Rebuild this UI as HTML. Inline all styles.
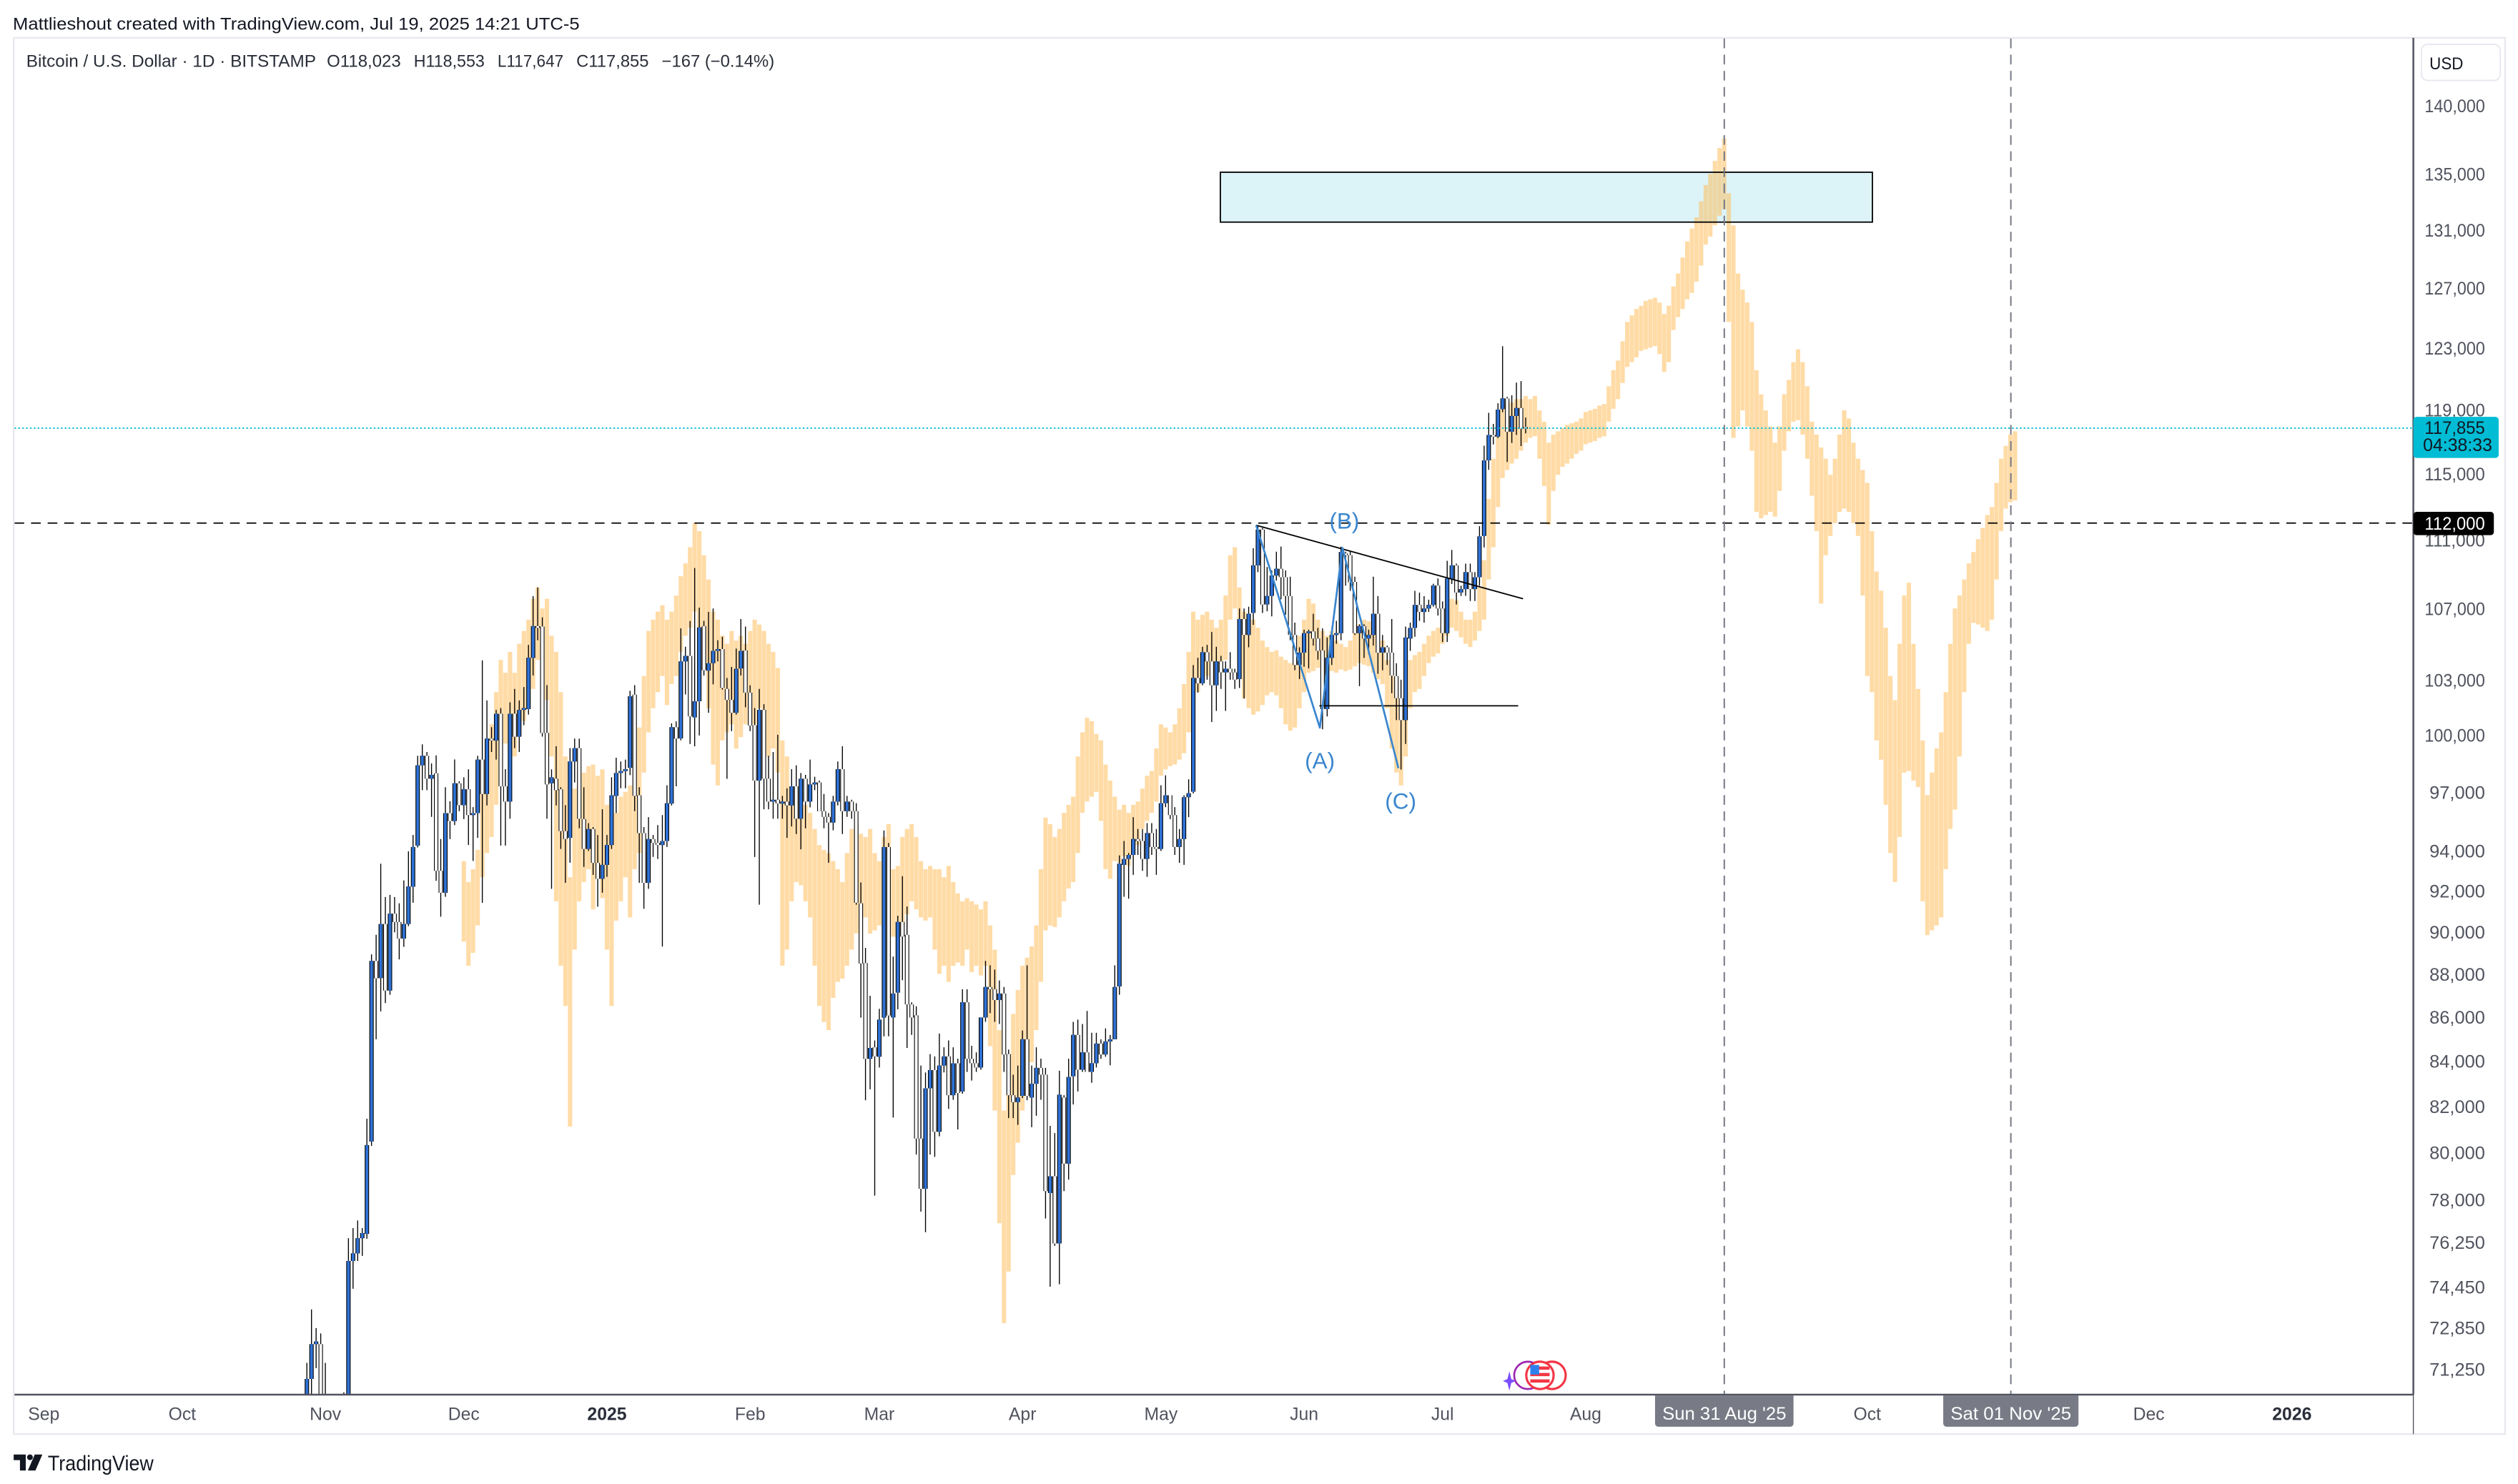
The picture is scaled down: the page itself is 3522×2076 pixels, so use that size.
<!DOCTYPE html>
<html><head><meta charset="utf-8"><style>
html,body{margin:0;padding:0;background:#fff;}
svg{display:block;}
</style></head><body>
<svg width="3522" height="2076" viewBox="0 0 1564 922" preserveAspectRatio="none" font-family="'Liberation Sans', Arial, sans-serif">
<rect x="0" y="0" width="1564" height="922" fill="#ffffff"/>
<text x="8" y="18.5" font-size="10.5" fill="#131722" textLength="352" lengthAdjust="spacingAndGlyphs">Mattlieshout created with TradingView.com, Jul 19, 2025 14:21 UTC-5</text>
<rect x="8.5" y="23.5" width="1547.5" height="867.5" fill="none" stroke="#e6e8ee" stroke-width="1"/>
<defs><clipPath id="cp"><rect x="9" y="24" width="1490" height="842.3"/></clipPath></defs>
<g clip-path="url(#cp)">
  <rect x="758" y="107" width="405" height="31" fill="#dcf4f8"/>
  <g transform="matrix(2.8675 0 0 1 377 0)">
  <path fill="none" stroke="#ffb74d" stroke-opacity="0.5" stroke-width="0.94" d="M-31 535V585M-30 548V600M-29 540V592M-28 528V575M-27 480V545M-26 468V530M-25 450V520M-24 430V500M-23 410V470M-22 418V462M-21 405V468M-20 418V470M-19 400V455M-18 392V448M-17 385V440M-16 372V428M-15 365V410M-14 378V432M-13 372V435M-12 395V470M-11 405V560M-10 430V600M-9 470V625M-8 545V700M-7 490V590M-6 488V560M-5 480V548M-4 476V540M-3 475V565M-2 482V545M-1 478V558M0 500V590M1 520V625M2 505V572M3 495V560M4 492V545M5 488V570M6 470V540M7 452V530M8 420V480M9 392V455M10 385V440M11 380V430M12 376V420M13 385V438M14 380V425M15 370V420M16 358V405M17 350V395M18 340V390M19 325V380M20 330V392M21 345V405M22 360V440M23 380V475M24 385V488M25 395V460M26 400V455M27 392V450M28 398V465M29 395V458M30 400V450M31 392V445M32 385V450M33 388V440M34 392V455M35 400V470M36 405V465M37 415V480M38 460V600M39 470V590M40 490V560M41 492V548M42 495V550M43 500V560M44 505V570M45 515V600M46 525V625M47 528V635M48 530V640M49 535V620M50 540V610M51 548V608M52 530V600M53 515V590M54 512V580M55 518V575M56 520V570M57 515V580M58 530V578M59 535V575M60 520V572M61 512V575M62 540V582M63 538V580M64 520V575M65 515V568M66 512V560M67 520V565M68 535V570M69 540V572M70 538V570M71 540V590M72 540V605M73 545V600M74 538V610M75 548V600M76 555V598M77 560V600M78 558V590M79 560V604M80 562V600M81 565V606M82 560V600M83 575V650M84 590V690M85 640V760M86 690V822M87 680V790M88 630V730M89 615V710M90 600V690M91 595V680M92 588V660M93 575V640M94 540V610M95 508V578M96 512V575M97 520V576M98 515V570M99 505V560M100 500V552M101 495V548M102 470V530M103 455V505M104 446V498M105 448V495M106 456V492M107 460V510M108 475V540M109 485V546M110 495V535M111 503V536M112 500V532M113 505V538M114 500V530M115 498V525M116 490V515M117 482V510M118 479V505M119 465V498M120 450V482M121 452V478M122 455V476M123 450V475M124 440V472M125 425V468M126 405V455M127 380V437M128 385V430M129 382V422M130 380V420M131 385V425M132 390V422M133 385V418M134 370V410M135 345V385M136 340V378M137 365V420M138 380V434M139 382V440M140 385V444M141 390V442M142 398V438M143 402V432M144 405V430M145 404V432M146 408V440M147 410V450M148 412V454M149 410V452M150 395V440M151 385V430M152 372V418M153 375V417M154 385V415M155 392V418M156 395V416M157 392V417M158 398V418M159 400V416M160 402V417M161 398V416M162 392V414M163 388V412M164 385V413M165 386V414M166 390V418M167 395V422M168 398V425M169 410V440M170 420V465M171 430V480M172 440V488M173 425V470M174 410V440M175 407V430M176 405V428M177 400V420M178 395V412M179 392V408M180 390V406M181 385V400M182 378V395M183 372V390M184 373V392M185 380V396M186 385V400M187 385V402M188 380V398M189 365V392M190 348V385M191 310V360M192 285V340M193 265V315M194 250V297M195 252V292M196 250V288M197 248V285M198 248V280M199 246V275M200 248V272M201 246V271M202 255V285M203 262V302M204 275V326M205 270V305M206 268V295M207 266V290M208 264V288M209 263V285M210 262V282M211 260V280M212 256V276M213 255V275M214 254V274M215 252V272M216 251V271M217 240V262M218 230V254M219 224V248M220 212V238M221 200V228M222 196V225M223 192V222M224 190V218M225 187V217M226 186V216M227 185V215M228 188V220M229 195V231M230 190V225M231 178V205M232 170V197M233 160V192M234 150V186M235 142V182M236 135V175M237 125V165M238 115V152M239 108V147M240 100V140M241 92V134M242 86V130M243 120V200M244 140V272M245 170V265M246 180V255M247 188V265M248 200V280M249 230V318M250 245V322M251 255V320M252 265V318M253 275V321M254 265V305M255 245V280M256 236V268M257 225V262M258 217V261M259 225V270M260 240V285M261 262V308M262 270V330M263 278V375M264 285V345M265 295V333M266 285V325M267 270V318M268 255V316M269 260V318M270 275V325M271 285V333M272 292V370M273 300V420M274 330V430M275 355V460M276 367V472M277 390V500M278 420V530M279 435V548M280 400V520M281 370V480M282 362V479M283 400V485M284 428V489M285 460V560M286 494V581M287 480V578M288 465V575M289 455V570M290 430V540M291 400V515M292 378V503M293 370V470M294 360V430M295 350V400M296 343V387M297 335V388M298 328V390M299 320V392M300 315V385M301 300V360M302 285V330M303 277V316M304 270V312M305 268V311"/>
  </g>
  <rect x="758" y="107" width="405" height="31" fill="none" stroke="#000" stroke-width="0.8"/>

  <g fill="none">
  <g transform="matrix(2.8675 0 0 -16.6175 377 2036.56)">
   <path stroke="#000" stroke-width="0.21" d="M-65 67.5V71.6M-64 69.7V73.6M-63 71.4V72.9M-62 69.7V72.7M-61 68.8V71.6M-60 69V69.9M-59 67.5V69.4M-58 66.8V68.9M-57 67.5V70.5"/>
   <path stroke="#000" stroke-width="0.94" d="M-65 67.9V71M-64 71V72.3M-63 72.3V72.4M-62 72.3V70.2M-61 70.2V69.5M-60 69.5V69.3M-59 69.3V68.7M-58 68.7V67.8M-57 67.8V69.4"/>
   <path stroke="#2f72d6" stroke-width="0.6" d="M-65 67.9V71M-64 71V72.3M-63 72.3V72.4M-57 67.8V69.4"/>
   <path stroke="#fff" stroke-width="0.6" d="M-62 72.3V70.2M-61 70.2V69.5M-60 69.5V69.3M-59 69.3V68.7M-58 68.7V67.8"/>
  </g>
  <g transform="matrix(2.8675 0 0 -15.719 377 1971.77)">
   <path stroke="#000" stroke-width="0.21" d="M-56 69.3V76.5M-55 74.5V76.9M-54 75.6V77.2M-53 75.8V76.9"/>
   <path stroke="#000" stroke-width="0.94" d="M-56 69.4V75.6M-55 75.6V75.9M-54 75.9V76.5M-53 76.5V76.7"/>
   <path stroke="#2f72d6" stroke-width="0.6" d="M-56 69.4V75.6M-55 75.6V75.9M-54 75.9V76.5M-53 76.5V76.7"/>
  </g>
  <g transform="matrix(2.8675 0 0 -14.91 377 1910.2)">
   <path stroke="#000" stroke-width="0.21" d="M-52 76.5V81.5M96 74.5V81.2M97 76.2V80.9M98 74.6V83.5"/>
   <path stroke="#000" stroke-width="0.94" d="M-52 76.7V80.4M96 78.4V79.1M97 79.1V76.3M98 76.3V82.5"/>
   <path stroke="#2f72d6" stroke-width="0.6" d="M-52 76.7V80.4M96 78.4V79.1M98 76.3V82.5"/>
   <path stroke="#fff" stroke-width="0.6" d="M97 79.1V76.3"/>
  </g>
  <g transform="matrix(2.8675 0 0 -14.181 377 1851.81)">
   <path stroke="#000" stroke-width="0.21" d="M58 78.2V85M67 80V86.5M68 77.5V83.9M69 76.6V83.6M70 80V84.4M71 79.9V84.3M72 80.8V85.3M73 83.6V84.7M74 82V85M75 82.4V84.7M76 81.1V84.2M87 81.6V84.6M88 81.6V83.5M89 81.3V83.9M92 81.2V83.9M93 81.7V84.7M94 82.4V84.2M95 77.2V83.8M99 78.4V82.6M100 78.9V84.2"/>
   <path stroke="#000" stroke-width="0.94" d="M58 84.7V84.3M67 86.1V80.7M68 80.7V78.5M69 78.5V82.9M70 82.9V83.7M71 83.7V81M72 81V83.9M73 83.9V84.3M74 84.3V82.6M75 82.6V84M76 84V82.7M87 84.4V82.6M88 82.6V82.3M89 82.3V82.5M92 82.5V83.1M93 83.1V83.8M94 83.8V83.5M95 83.5V78.4M99 82.5V79.6M100 79.6V83.4"/>
   <path stroke="#2f72d6" stroke-width="0.6" d="M69 78.5V82.9M70 82.9V83.7M72 81V83.9M73 83.9V84.3M75 82.6V84M89 82.3V82.5M92 82.5V83.1M93 83.1V83.8M100 79.6V83.4"/>
   <path stroke="#fff" stroke-width="0.6" d="M58 84.7V84.3M67 86.1V80.7M68 80.7V78.5M71 83.7V81M74 84.3V82.6M76 84V82.7M87 84.4V82.6M88 82.6V82.3M94 83.8V83.5M95 83.5V78.4M99 82.5V79.6"/>
  </g>
  <g transform="matrix(2.8675 0 0 -13.521 377 1796.32)">
   <path stroke="#000" stroke-width="0.21" d="M-51 80.2V89M-50 85.1V89.9M56 82.3V89.3M57 82.8V87.1M59 83.8V86.5M62 81.5V88.9M65 84.7V91.2M66 85.3V86.8M77 82.6V87.4M78 83.6V87.4M79 83.2V84.8M80 83.6V84.5M81 83.7V86.1M82 85.9V88.7M83 86.3V88.5M84 85.9V88.3M85 85.8V87.8M86 83.6V87.5M90 82.4V85.5M91 82.3V88.5M101 82.1V85.9M102 82.7V86M103 83.6V85.8M104 83.6V86.4M105 83.1V85.4M106 83.8V85.4M107 84.2V85.1M108 84.3V85.6M109 83.9V85.3M110 85.1V88.5"/>
   <path stroke="#000" stroke-width="0.94" d="M-51 80.4V88.7M-50 88.7V87.9M56 88.6V84.2M57 84.2V84.7M59 84.3V86M62 86.1V87.2M65 89.9V86.7M66 86.7V86.1M77 82.7V86.8M78 86.8V84.2M79 84.2V84M80 84V83.8M81 83.8V86.1M82 86.1V87.5M83 87.5V87.4M84 87.4V86.9M85 86.9V87.2M86 87.2V84.4M90 82.5V85.1M91 85.1V82.5M101 83.4V85.3M102 85.3V83.7M103 83.7V84.5M104 84.5V83.6M105 83.6V84M106 84V84.9M107 84.9V84.4M108 84.4V85M109 85V85.1M110 85.1V87.5"/>
   <path stroke="#2f72d6" stroke-width="0.6" d="M-51 80.4V88.7M57 84.2V84.7M59 84.3V86M62 86.1V87.2M77 82.7V86.8M81 83.8V86.1M82 86.1V87.5M85 86.9V87.2M90 82.5V85.1M101 83.4V85.3M103 83.7V84.5M105 83.6V84M106 84V84.9M108 84.4V85M109 85V85.1M110 85.1V87.5"/>
   <path stroke="#fff" stroke-width="0.6" d="M-50 88.7V87.9M56 88.6V84.2M65 89.9V86.7M66 86.7V86.1M78 86.8V84.2M79 84.2V84M80 84V83.8M83 87.5V87.4M84 87.4V86.9M86 87.2V84.4M91 85.1V82.5M102 85.3V83.7M104 84.5V83.6M107 84.9V84.4"/>
  </g>
  <g transform="matrix(2.8675 0 0 -12.92 377 1743.36)">
   <path stroke="#000" stroke-width="0.21" d="M-49 86.3V93.4M-48 86.7V91.8M-47 87.1V91.9M-46 90.1V91.8M-45 88.8V91.5M-44 89.4V92.6M-43 90.4V94M55 86V92.5M60 85.1V95M61 85.1V94.4M63 86.4V90.9M64 87.8V92.8M111 87.1V93.8"/>
   <path stroke="#000" stroke-width="0.94" d="M-49 87.9V90.5M-48 90.5V87.3M-47 87.3V91M-46 91V90.6M-45 90.6V89.8M-44 89.8V90.5M-43 90.5V92.3M55 91.5V88.6M60 86V94.2M61 94.2V86.1M63 87.2V90.6M64 90.6V89.9M111 87.5V93.4"/>
   <path stroke="#2f72d6" stroke-width="0.6" d="M-49 87.9V90.5M-47 87.3V91M-44 89.8V90.5M-43 90.5V92.3M60 86V94.2M63 87.2V90.6M111 87.5V93.4"/>
   <path stroke="#fff" stroke-width="0.6" d="M-48 90.5V87.3M-46 91V90.6M-45 90.6V89.8M55 91.5V88.6M61 94.2V86.1M64 90.6V89.9"/>
  </g>
  <g transform="matrix(2.8675 0 0 -12.369 377 1692.62)">
   <path stroke="#000" stroke-width="0.21" d="M-42 91.5V94.9M-37 92.6V98.9M-36 90.8V94.7M-35 91.8V97.3M-34 94.7V96.6M-33 95.4V98.7M-32 96.1V97.6M-31 95.7V97.8M-30 94.4V98.2M-29 93.6V96.3M-12 92.2V98.2M-10 94.2V97.3M-9 92.5V96.4M-5 93.3V97.3M-4 94.1V95.5M-3 92.9V95.3M-2 91.3V94.9M-1 92V96.2M0 92.8V94.9M1 94.2V97.8M7 92.5V97.3M8 91.2V95.3M9 92.2V95.8M10 93.8V94.9M11 93.7V95.4M12 89.3V95.9M13 94.3V97.4M54 91.4V96.5M112 91.8V94.6M113 91.7V94M114 92.9V95.8M115 93.9V95.2M116 93.1V95.2M117 92.8V95.5M118 93.9V95.5M119 92.9V95.2M120 94.1V97.4M121 96.3V97.9M122 95.7V96.9M123 93.9V96.3M124 93.5V95.2M125 93.4V96.9M126 95.8V97.7"/>
   <path stroke="#000" stroke-width="0.94" d="M-42 92.3V94.3M-37 98V93.1M-36 93.1V92M-35 92V96M-34 96V95.6M-33 95.6V97.5M-32 97.5V96.4M-31 96.4V97.2M-30 97.2V95.9M-29 95.9V96M-12 97.5V97.8M-10 97.2V95.1M-9 95.1V94.7M-5 95.7V94.2M-4 94.2V95.2M-3 95.2V93.5M-2 93.5V92.7M-1 92.7V93.4M0 93.4V94.4M1 94.4V96.9M7 96.9V95M8 95V92.5M9 92.5V94.7M10 94.7V94.5M11 94.5V94.4M12 94.4V94.6M13 94.6V96.5M54 96.1V91.5M112 93.4V93.7M113 93.7V93.9M114 93.9V94.7M115 94.7V94.6M116 94.6V93.7M117 93.7V95M118 95V94.3M119 94.3V94.2M120 94.2V96.5M121 96.5V96.9M122 96.9V95.9M123 95.9V94.3M124 94.3V94.7M125 94.7V96.8M126 96.8V97"/>
   <path stroke="#2f72d6" stroke-width="0.6" d="M-42 92.3V94.3M-35 92V96M-33 95.6V97.5M-31 96.4V97.2M-29 95.9V96M-12 97.5V97.8M-4 94.2V95.2M-1 92.7V93.4M0 93.4V94.4M1 94.4V96.9M9 92.5V94.7M12 94.4V94.6M13 94.6V96.5M112 93.4V93.7M113 93.7V93.9M114 93.9V94.7M117 93.7V95M120 94.2V96.5M121 96.5V96.9M124 94.3V94.7M125 94.7V96.8M126 96.8V97"/>
   <path stroke="#fff" stroke-width="0.6" d="M-37 98V93.1M-36 93.1V92M-34 96V95.6M-32 97.5V96.4M-30 97.2V95.9M-10 97.2V95.1M-9 95.1V94.7M-5 95.7V94.2M-3 95.2V93.5M-2 93.5V92.7M7 96.9V95M8 95V92.5M10 94.7V94.5M11 94.5V94.4M54 96.1V91.5M115 94.7V94.6M116 94.6V93.7M118 95V94.3M119 94.3V94.2M122 96.9V95.9M123 95.9V94.3"/>
  </g>
  <g transform="matrix(2.8675 0 0 -11.864 377 1644.1)">
   <path stroke="#000" stroke-width="0.21" d="M-41 94.2V99M-40 97.2V99.6M-39 97.2V99.2M-38 95.8V98.6M-28 94.7V99M-27 91.3V104M-26 96.4V101.9M-25 99.2V100.5M-24 98.8V101.4M-23 94.3V101.5M-22 94.3V98.3M-21 95.7V101.8M-20 99.4V102.5M-19 99.2V101.9M-18 100.6V102.6M-13 95.7V102.7M-11 96.4V99.5M-8 93.4V99.4M-7 97.6V99.9M-6 95.2V99.9M2 96V98.9M3 97.3V98.7M4 97.3V98.8M6 96.1V102.7M14 96.4V100.7M15 97.4V100.8M32 93.7V101.5M33 91.2V102.5M34 96.2V101.7M35 96.2V99M36 95.7V99.2M37 95.7V100.1M38 95.7V96.9M39 94.7V97.3M40 95.3V98.3M41 94.9V98.5M42 94.1V98.1M43 95.2V98M44 96.3V98.8M45 97.2V97.9M46 96.1V97.7M47 95.2V97M48 93.4V96M49 95.1V96.9M50 96.4V98.7M51 94.9V99.5M52 95.8V96.9M53 95.7V96.7"/>
   <path stroke="#000" stroke-width="0.94" d="M-41 94.3V98.5M-40 98.5V99M-39 99V97.8M-38 97.8V98M-28 96V98.8M-27 98.8V97M-26 97V99.9M-25 99.9V99.8M-24 99.8V101.2M-23 101.2V97.4M-22 97.4V96.6M-21 96.6V101.2M-20 101.2V100M-19 100V101.4M-18 101.4V101.5M-13 100.2V97.5M-11 97.8V97.2M-8 94.7V98.7M-7 98.7V99.4M-6 99.4V95.7M2 96.9V98.1M3 98.1V98.2M4 98.2V98.3M6 102.2V96.9M14 96.5V100.5M15 100.5V99.9M32 100.6V97.7M33 97.7V101.4M34 101.4V97.8M35 97.8V96.6M36 96.6V96.7M37 96.7V96.5M38 96.5V96.6M39 96.6V96.4M40 96.4V97.4M41 97.4V95.7M42 95.7V97.8M43 97.8V96.6M44 96.6V97.5M45 97.5V97.6M46 97.6V96.1M47 96.1V95.8M48 95.8V95.5M49 95.5V96.6M50 96.6V98.3M51 98.3V96.1M52 96.1V96.6M53 96.6V96.1"/>
   <path stroke="#2f72d6" stroke-width="0.6" d="M-41 94.3V98.5M-40 98.5V99M-38 97.8V98M-28 96V98.8M-26 97V99.9M-24 99.8V101.2M-21 96.6V101.2M-19 100V101.4M-18 101.4V101.5M-8 94.7V98.7M-7 98.7V99.4M2 96.9V98.1M3 98.1V98.2M4 98.2V98.3M14 96.5V100.5M33 97.7V101.4M36 96.6V96.7M38 96.5V96.6M40 96.4V97.4M42 95.7V97.8M44 96.6V97.5M45 97.5V97.6M49 95.5V96.6M50 96.6V98.3M52 96.1V96.6"/>
   <path stroke="#fff" stroke-width="0.6" d="M-39 99V97.8M-27 98.8V97M-25 99.9V99.8M-23 101.2V97.4M-22 97.4V96.6M-20 101.2V100M-13 100.2V97.5M-11 97.8V97.2M-6 99.4V95.7M6 102.2V96.9M15 100.5V99.9M32 100.6V97.7M34 101.4V97.8M35 97.8V96.6M37 96.7V96.5M39 96.6V96.4M41 97.4V95.7M43 97.8V96.6M46 97.6V96.1M47 96.1V95.8M48 95.8V95.5M51 98.3V96.1M53 96.6V96.1"/>
  </g>
  <g transform="matrix(2.8675 0 0 -11.399 377 1597.56)">
   <path stroke="#000" stroke-width="0.21" d="M-17 101.2V105M-14 100V106.5M5 97.9V102.5M16 99.8V105.9M17 102.3V104.9M18 99.6V106.3M22 101.3V106.8M26 97.7V103.2M27 100.3V103.8M28 101.2V104.8M30 101.6V106M31 100.3V102.8M127 96.9V103.9M128 102.4V104.3M129 102.8V104.9M130 103.1V105M131 100.8V105.7M132 101.4V104.9M133 102.6V104.4M134 101.4V104.1M135 103.1V104.6M136 102.6V103.7M155 100.4V105.9M156 101.1V105.4M171 100.9V104M172 98.2V103.1M173 99.6V106"/>
   <path stroke="#000" stroke-width="0.94" d="M-17 101.5V104.3M-14 106V100.2M5 98.3V102.2M16 99.9V104.1M17 104.1V104.4M18 104.4V101.1M22 103.6V104M26 102.6V102M27 102V101.3M28 101.3V103.7M30 104.7V102.4M31 102.4V100.6M127 97V103.2M128 103.2V102.9M129 102.9V104.6M130 104.6V104.1M131 104.1V102.8M132 102.8V104.1M133 104.1V103.5M134 103.5V103.7M135 103.7V103.5M136 103.5V103.1M155 104.7V101.5M156 101.5V104.3M171 103.3V102.1M172 102.1V100.9M173 100.9V105.4"/>
   <path stroke="#2f72d6" stroke-width="0.6" d="M-17 101.5V104.3M5 98.3V102.2M16 99.9V104.1M17 104.1V104.4M22 103.6V104M28 101.3V103.7M127 97V103.2M129 102.9V104.6M132 102.8V104.1M134 103.5V103.7M156 101.5V104.3M173 100.9V105.4"/>
   <path stroke="#fff" stroke-width="0.6" d="M-14 106V100.2M18 104.4V101.1M26 102.6V102M27 102V101.3M30 104.7V102.4M31 102.4V100.6M128 103.2V102.9M130 104.6V104.1M131 104.1V102.8M133 104.1V103.5M135 103.7V103.5M136 103.5V103.1M155 104.7V101.5M171 103.3V102.1M172 102.1V100.9"/>
  </g>
  <g transform="matrix(2.8675 0 0 -11.186 377 1576.66)">
   <path stroke="#000" stroke-width="0.21" d="M19 99.5V109.4M20 100.1V107.2"/>
   <path stroke="#000" stroke-width="0.94" d="M19 101.1V102M20 102V106.1"/>
   <path stroke="#2f72d6" stroke-width="0.6" d="M19 101.1V102M20 102V106.1"/>
  </g>
  <g transform="matrix(2.8675 0 0 -10.9675 377 1552.66)">
   <path stroke="#000" stroke-width="0.21" d="M-16 103.3V107.8M-15 105.3V108.3M21 103.3V106.4M23 102.8V107.1M24 104.1V105.3M25 102.5V105.5M29 103.3V106.5M137 102.6V107.1M138 102V107.1M139 104.9V107.2M148 105.3V108.9M149 103.6V106.3M150 103.1V104.9M151 103.8V105.9M152 103.7V105.9M153 105V106.8M154 104.2V106M157 103.9V105.9M158 105.1V106.4M159 105.3V110.6M162 105.6V108.9M163 102.7V106.2M164 104.3V106.2M165 104.5V105.9M166 105V108.9M167 103.4V107.8M168 103.6V105.6M169 103.9V105M170 102.3V106.5M174 104.7V106.3M175 105.5V108.1M176 106.4V108M177 106.3V107.8M178 106.9V107.6M179 107.2V108.5M180 106.7V108.8M181 105.2V107.5M182 105.2V109.8"/>
   <path stroke="#000" stroke-width="0.94" d="M-16 104.3V106.1M-15 106.1V106M21 106.1V103.6M23 104V104.7M24 104.7V104.8M25 104.8V102.6M29 103.7V104.7M137 103.1V106.5M138 106.5V105.6M139 105.6V106.8M148 107.8V105.6M149 105.6V103.9M150 103.9V104.6M151 104.6V105.7M152 105.7V105.8M153 105.8V105.4M154 105.4V104.7M157 104.3V105.6M158 105.6V105.7M159 105.7V110.3M162 108.6V105.7M163 105.7V106.1M164 106.1V105.4M165 105.4V105.6M166 105.6V106.8M167 106.8V104.6M168 104.6V104.9M169 104.9V104.6M170 104.6V103.3M174 105.4V106M175 106V107.3M176 107.3V106.9M177 106.9V107.1M178 107.1V107.3M179 107.3V108.4M180 108.4V107.1M181 107.1V105.7M182 105.7V108.8"/>
   <path stroke="#2f72d6" stroke-width="0.6" d="M-16 104.3V106.1M23 104V104.7M24 104.7V104.8M29 103.7V104.7M137 103.1V106.5M139 105.6V106.8M150 103.9V104.6M151 104.6V105.7M152 105.7V105.8M157 104.3V105.6M158 105.6V105.7M159 105.7V110.3M163 105.7V106.1M165 105.4V105.6M166 105.6V106.8M168 104.6V104.9M174 105.4V106M175 106V107.3M177 106.9V107.1M178 107.1V107.3M179 107.3V108.4M182 105.7V108.8"/>
   <path stroke="#fff" stroke-width="0.6" d="M-15 106.1V106M21 106.1V103.6M25 104.8V102.6M138 106.5V105.6M148 107.8V105.6M149 105.6V103.9M153 105.8V105.4M154 105.4V104.7M162 108.6V105.7M164 106.1V105.4M167 106.8V104.6M169 104.9V104.6M170 104.6V103.3M176 107.3V106.9M180 108.4V107.1M181 107.1V105.7"/>
  </g>
  <g transform="matrix(2.8675 0 0 -10.5675 377 1509.43)">
   <path stroke="#000" stroke-width="0.21" d="M140 106.1V110.6M141 109.2V111.9M142 106.8V111.8M143 106.9V109.5M144 106.6V109.3M145 108.7V110.4M146 107.6V110.7M147 106.7V109.3M160 108.4V110.4M161 108.1V110.4M183 108.5V110.5M184 107.3V109.7M185 107.8V108.4M186 107.8V109.7M187 107.5V109.7M188 107.5V109.2M189 108.4V111.9"/>
   <path stroke="#000" stroke-width="0.94" d="M140 106.8V109.6M141 109.6V111.7M142 111.7V107.3M143 107.3V107.8M144 107.8V109M145 109V109.4M146 109.4V108.9M147 108.9V107.8M160 110.3V110.2M161 110.2V108.6M183 108.8V109.6M184 109.6V108M185 108V108.2M186 108.2V109.2M187 109.2V108.2M188 108.2V108.9M189 108.9V111.3"/>
   <path stroke="#2f72d6" stroke-width="0.6" d="M140 106.8V109.6M141 109.6V111.7M143 107.3V107.8M144 107.8V109M145 109V109.4M183 108.8V109.6M185 108V108.2M186 108.2V109.2M188 108.2V108.9M189 108.9V111.3"/>
   <path stroke="#fff" stroke-width="0.6" d="M142 111.7V107.3M146 109.4V108.9M147 108.9V107.8M160 110.3V110.2M161 110.2V108.6M184 109.6V108M187 109.2V108.2"/>
  </g>
  <g transform="matrix(2.8675 0 0 -10.1975 377 1467.96)">
   <path stroke="#000" stroke-width="0.21" d="M190 110.6V116.8"/>
   <path stroke="#000" stroke-width="0.94" d="M190 111.3V115.9"/>
   <path stroke="#2f72d6" stroke-width="0.6" d="M190 111.3V115.9"/>
  </g>
  <g transform="matrix(2.8675 0 0 -9.851 377 1427.74)">
   <path stroke="#000" stroke-width="0.21" d="M191 115.3V118.9M192 116.9V118.2M193 117.3V119.5M195 115.8V119.9M196 117V120M197 117.5V120.8M198 116.8V120.9M199 117.6V118.6"/>
   <path stroke="#000" stroke-width="0.94" d="M191 115.9V117.5M192 117.5V117.4M193 117.4V119.1M195 119.8V117.7M196 117.7V118.7M197 118.7V119.2M198 119.2V117.9M199 118V117.9"/>
   <path stroke="#2f72d6" stroke-width="0.6" d="M191 115.9V117.5M193 117.4V119.1M196 117.7V118.7M197 118.7V119.2"/>
   <path stroke="#fff" stroke-width="0.6" d="M192 117.5V117.4M195 119.8V117.7M198 119.2V117.9M199 118V117.9"/>
  </g>
  <g transform="matrix(2.8675 0 0 -9.5275 377 1388.9)">
   <path stroke="#000" stroke-width="0.21" d="M194 118.9V123.2"/>
   <path stroke="#000" stroke-width="0.94" d="M194 119.1V119.8"/>
   <path stroke="#2f72d6" stroke-width="0.6" d="M194 119.1V119.8"/>
  </g>
  </g>

  <line x1="9" y1="325" x2="1499" y2="325" stroke="#000" stroke-width="0.75" stroke-dasharray="6 4.3"/>
  <line x1="9" y1="266" x2="1499" y2="266" stroke="#00bcd4" stroke-width="0.8" stroke-dasharray="1 1.4"/>
  <line x1="1071" y1="24" x2="1071" y2="866" stroke="#787b86" stroke-width="0.9" stroke-dasharray="6 4"/>
  <line x1="1249" y1="24" x2="1249" y2="866" stroke="#787b86" stroke-width="0.9" stroke-dasharray="6 4"/>
  <line x1="780.2" y1="326.3" x2="946" y2="372" stroke="#000" stroke-width="0.8"/>
  <line x1="819.5" y1="438.5" x2="943" y2="438.5" stroke="#000" stroke-width="0.8"/>
  <polyline points="780.2,326.3 819.8,452.1 833.8,340.4 868.6,477.3" fill="none" stroke="#3a86cf" stroke-width="1.2" stroke-linejoin="round"/>
</g>
<text x="819.8" y="477.5" font-size="14" fill="#3a86cf" text-anchor="middle">(A)</text>
<text x="835" y="328.5" font-size="14" fill="#3a86cf" text-anchor="middle">(B)</text>
<text x="870" y="502.5" font-size="14" fill="#3a86cf" text-anchor="middle">(C)</text>

<g font-size="10.5" fill="#2a2e39">
<text x="16.3" y="41.5" textLength="180" lengthAdjust="spacingAndGlyphs">Bitcoin / U.S. Dollar · 1D · BITSTAMP</text>
<text x="203" y="41.5" textLength="46" lengthAdjust="spacingAndGlyphs">O118,023</text>
<text x="257" y="41.5" textLength="44" lengthAdjust="spacingAndGlyphs">H118,553</text>
<text x="309" y="41.5" textLength="41" lengthAdjust="spacingAndGlyphs">L117,647</text>
<text x="358" y="41.5" textLength="45" lengthAdjust="spacingAndGlyphs">C117,855</text>
<text x="411" y="41.5" textLength="70" lengthAdjust="spacingAndGlyphs">−167 (−0.14%)</text>
</g>

<line x1="9" y1="866.5" x2="1499" y2="866.5" stroke="#50535e" stroke-width="1.1"/>
<line x1="1499" y1="23.5" x2="1499" y2="866.5" stroke="#50535e" stroke-width="1.1"/>
<line x1="1499" y1="866.5" x2="1499" y2="891" stroke="#50535e" stroke-width="0.6"/>

<rect x="1504" y="27.5" width="49" height="22.5" rx="4" fill="#fff" stroke="#e6e8ee" stroke-width="0.8"/>
<text x="1509" y="43" font-size="10.5" fill="#131722" textLength="21" lengthAdjust="spacingAndGlyphs">USD</text>
<g font-size="11" fill="#50535e">
<text x="1506" y="69.8" textLength="37.5" lengthAdjust="spacingAndGlyphs">140,000</text>
<text x="1506" y="112.1" textLength="37.5" lengthAdjust="spacingAndGlyphs">135,000</text>
<text x="1506" y="147" textLength="37.5" lengthAdjust="spacingAndGlyphs">131,000</text>
<text x="1506" y="183" textLength="37.5" lengthAdjust="spacingAndGlyphs">127,000</text>
<text x="1506" y="220.2" textLength="37.5" lengthAdjust="spacingAndGlyphs">123,000</text>
<text x="1506" y="258.6" textLength="37.5" lengthAdjust="spacingAndGlyphs">119,000</text>
<text x="1506" y="298.4" textLength="37.5" lengthAdjust="spacingAndGlyphs">115,000</text>
<text x="1506" y="339.5" textLength="37.5" lengthAdjust="spacingAndGlyphs">111,000</text>
<text x="1506" y="382.2" textLength="37.5" lengthAdjust="spacingAndGlyphs">107,000</text>
<text x="1506" y="426.5" textLength="37.5" lengthAdjust="spacingAndGlyphs">103,000</text>
<text x="1506" y="460.8" textLength="37.5" lengthAdjust="spacingAndGlyphs">100,000</text>
<text x="1509" y="496.2" textLength="34.5" lengthAdjust="spacingAndGlyphs">97,000</text>
<text x="1509" y="532.7" textLength="34.5" lengthAdjust="spacingAndGlyphs">94,000</text>
<text x="1509" y="557.7" textLength="34.5" lengthAdjust="spacingAndGlyphs">92,000</text>
<text x="1509" y="583.2" textLength="34.5" lengthAdjust="spacingAndGlyphs">90,000</text>
<text x="1509" y="609.3" textLength="34.5" lengthAdjust="spacingAndGlyphs">88,000</text>
<text x="1509" y="636" textLength="34.5" lengthAdjust="spacingAndGlyphs">86,000</text>
<text x="1509" y="663.4" textLength="34.5" lengthAdjust="spacingAndGlyphs">84,000</text>
<text x="1509" y="691.4" textLength="34.5" lengthAdjust="spacingAndGlyphs">82,000</text>
<text x="1509" y="720.1" textLength="34.5" lengthAdjust="spacingAndGlyphs">80,000</text>
<text x="1509" y="749.5" textLength="34.5" lengthAdjust="spacingAndGlyphs">78,000</text>
<text x="1509" y="775.9" textLength="34.5" lengthAdjust="spacingAndGlyphs">76,250</text>
<text x="1509" y="803.6" textLength="34.5" lengthAdjust="spacingAndGlyphs">74,450</text>
<text x="1509" y="828.9" textLength="34.5" lengthAdjust="spacingAndGlyphs">72,850</text>
<text x="1509" y="854.7" textLength="34.5" lengthAdjust="spacingAndGlyphs">71,250</text>
</g>
<rect x="1499" y="259" width="53" height="25.5" rx="2" fill="#00bcd4"/>
<text x="1506" y="269.5" font-size="11" fill="#131722" textLength="37.5" lengthAdjust="spacingAndGlyphs">117,855</text>
<text x="1505" y="280.3" font-size="11" fill="#131722" textLength="43" lengthAdjust="spacingAndGlyphs">04:38:33</text>
<rect x="1499" y="318" width="50" height="14.5" rx="2" fill="#000"/>
<text x="1506" y="329.2" font-size="11" fill="#ffffff" textLength="37.5" lengthAdjust="spacingAndGlyphs">112,000</text>

<g font-size="11" fill="#50535e" text-anchor="middle">
<text x="27.2" y="882.3">Sep</text>
<text x="113.2" y="882.3">Oct</text>
<text x="202.1" y="882.3">Nov</text>
<text x="288.1" y="882.3">Dec</text>
<text x="377" y="882.3" font-weight="bold" fill="#2a2e39">2025</text>
<text x="465.9" y="882.3">Feb</text>
<text x="546.2" y="882.3">Mar</text>
<text x="635.1" y="882.3">Apr</text>
<text x="721.1" y="882.3">May</text>
<text x="810" y="882.3">Jun</text>
<text x="896" y="882.3">Jul</text>
<text x="984.9" y="882.3">Aug</text>
<text x="1159.8" y="882.3">Oct</text>
<text x="1334.7" y="882.3">Dec</text>
<text x="1423.6" y="882.3" font-weight="bold" fill="#2a2e39">2026</text>
</g>
<path d="M1028 867 H1114 V884.4 a2 2 0 0 1 -2 2 H1030 a2 2 0 0 1 -2 -2 Z" fill="#787b86"/>
<text x="1071" y="882" font-size="11" fill="#ffffff" text-anchor="middle" textLength="77" lengthAdjust="spacingAndGlyphs">Sun 31 Aug '25</text>
<path d="M1207 867 H1291 V884.4 a2 2 0 0 1 -2 2 H1209 a2 2 0 0 1 -2 -2 Z" fill="#787b86"/>
<text x="1249" y="882" font-size="11" fill="#ffffff" text-anchor="middle" textLength="75" lengthAdjust="spacingAndGlyphs">Sat 01 Nov '25</text>

<circle cx="964" cy="854.5" r="8.5" fill="#fff" stroke="#f23645" stroke-width="1.4"/>
<circle cx="949" cy="854.5" r="8.5" fill="#fff" stroke="#9c27b0" stroke-width="1.2"/>
<path d="M937.5 852 L938.7 856.8 L941.5 858 L938.7 859.2 L937.5 864 L936.3 859.2 L933.5 858 L936.3 856.8 Z" fill="#7c4dff"/>
<circle cx="956.5" cy="854.5" r="8.5" fill="#fff" stroke="#f23645" stroke-width="1.4"/>
<rect x="950.5" y="849" width="12" height="2" fill="#f23645"/>
<rect x="950.5" y="853" width="12" height="2" fill="#f23645"/>
<rect x="950.5" y="857" width="12" height="2" fill="#f23645"/>
<rect x="950.5" y="848" width="5.5" height="6" fill="#2f80ed"/>

<path d="M8.5 903.7 H16 V913.6 H12.4 V907.2 H8.5 Z" fill="#131722"/>
<circle cx="18.6" cy="905.4" r="1.8" fill="#131722"/>
<path d="M21.6 903.7 H26.3 L22 913.6 H17.3 Z" fill="#131722"/>
<text x="29.7" y="913.5" font-size="13" fill="#131722" textLength="65.7" lengthAdjust="spacingAndGlyphs">TradingView</text>
</svg>
</body></html>
